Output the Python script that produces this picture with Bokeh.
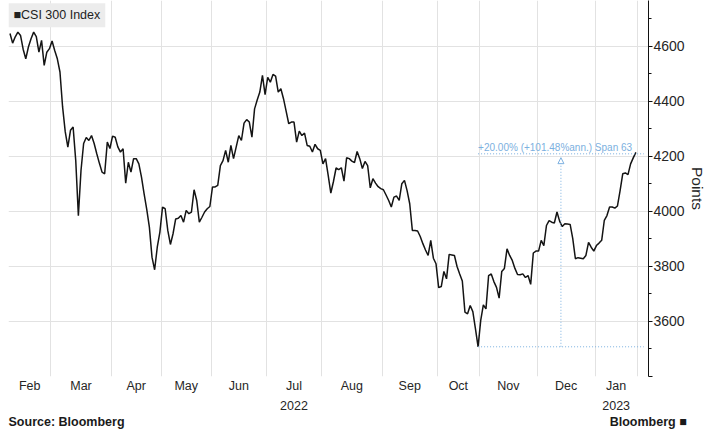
from bokeh.plotting import figure
from bokeh.models import Range1d, FixedTicker, Label, Arrow, NormalHead, LinearAxis
from bokeh.embed import file_html
from bokeh.resources import INLINE

# ---- data (CSI 300 daily closes, trading days Feb 2022 .. Jan 2023) ----
months = ["Feb", "Mar", "Apr", "May", "Jun", "Jul", "Aug", "Sep", "Oct", "Nov", "Dec", "Jan"]
month_tick_labels = ["Feb", "Mar", "Apr", "May", "Jun", "Jul\n2022", "Aug", "Sep", "Oct", "Nov", "Dec", "Jan\n2023"]
feb = [4647, 4612, 4635, 4652, 4640, 4590, 4555, 4598, 4628, 4652, 4636, 4579, 4622, 4531, 4579, 4592]
mar = [4620, 4585, 4555, 4507, 4380, 4290, 4234, 4295, 4307, 4185, 3985, 4149, 4247, 4269, 4258, 4276,
       4247, 4210, 4175, 4143, 4137, 4252, 4229]
apr = [4274, 4270, 4235, 4216, 4228, 4103, 4179, 4143, 4192, 4192, 4173, 4125, 4064, 4008, 3943, 3834,
       3788, 3870, 3925]
may = [4016, 4010, 3931, 3880, 3919, 3973, 3975, 3985, 3961, 4004, 3992, 3998, 4079, 4040, 3961, 3979,
       3998, 4010, 4018]
jun = [4089, 4089, 4095, 4167, 4185, 4222, 4179, 4240, 4192, 4234, 4276, 4258, 4321, 4334, 4325, 4270,
       4373, 4405, 4434, 4495, 4425]
jul = [4488, 4470, 4498, 4492, 4434, 4446, 4410, 4365, 4319, 4325, 4325, 4252, 4292, 4276, 4285, 4240,
       4237, 4216, 4244, 4228, 4222]
aug = [4173, 4192, 4131, 4067, 4109, 4158, 4152, 4159, 4110, 4195, 4192, 4183, 4178, 4218, 4192, 4156,
       4182, 4167, 4086, 4119, 4103, 4090, 4083]
sep = [4079, 4060, 4040, 4016, 4052, 4056, 4040, 4101, 4113, 4076, 4028, 3931, 3931, 3929, 3909, 3883,
       3860, 3840, 3895, 3830, 3810]
oct_ = [3723, 3727, 3782, 3755, 3844, 3842, 3840, 3800, 3773, 3747, 3634, 3628, 3658, 3636, 3573, 3508]
nov = [3604, 3660, 3646, 3767, 3773, 3745, 3724, 3685, 3782, 3793, 3864, 3840, 3822, 3793, 3771, 3770,
       3773, 3760, 3767, 3735, 3849, 3856]
dec = [3856, 3895, 3876, 3949, 3967, 3961, 3958, 3998, 3965, 3945, 3955, 3954, 3953, 3901, 3828, 3832,
       3830, 3828, 3840, 3888, 3870, 3856]
jan = [3876, 3885, 3895, 3968, 3985, 4016, 4016, 4012, 4020, 4076, 4137, 4140, 4134, 4173, 4195, 4215]

series = [feb, mar, apr, may, jun, jul, aug, sep, oct_, nov, dec, jan]
y_ticks = [3400, 3600, 3800, 4000, 4200, 4400, 4600]
y_minor = [3500, 3700, 3900, 4100, 4300, 4500, 4700]
span_days = 63
annotation_text = "+20.00% (+101.48%ann.) Span 63"
legend_text = "\u25a0CSI 300 Index"
source_text = "Source: Bloomberg"
brand_text = "Bloomberg \u25a0"

values = [v for m in series for v in m]
xs = list(range(len(values)))

starts = []
s = 0
for m in series:
    starts.append(s)
    s += len(m)
mids = [st + (len(m) - 1) / 2 for st, m in zip(starts, series)]
bounds = [st - 0.5 for st in starts[1:]] + [s - 0.5]

FONT = "Liberation Sans"
BLUE = "#7cb0e0"
TXT = "#262626"
X_LO, X_HI = -0.57, 242.8
Y_TOP = 4767

p = figure(frame_width=640, frame_height=376, output_backend="svg", toolbar_location=None,
           x_range=Range1d(X_LO, X_HI), y_range=Range1d(3400, Y_TOP),
           y_axis_location="right", min_border_left=8, min_border_top=0,
           min_border_right=64, min_border_bottom=56,
           background_fill_color="white", border_fill_color="white")
p.outline_line_color = None

p.line(xs, values, line_color="#141414", line_width=1.5)

# x axis: month labels centred, gridlines at month boundaries
p.xaxis.ticker = FixedTicker(ticks=mids)
p.xaxis.major_label_overrides = {m: lab for m, lab in zip(mids, month_tick_labels)}
p.xaxis.major_tick_line_color = None
p.xaxis.minor_tick_line_color = None
p.xaxis.axis_line_color = None
p.xaxis.major_label_standoff = -4
p.xaxis.major_label_text_font = FONT
p.xaxis.major_label_text_font_size = "12.5px"
p.xaxis.major_label_text_line_height = 1.45
p.xaxis.major_label_text_color = TXT
p.xgrid.ticker = FixedTicker(ticks=bounds)
p.xgrid.grid_line_color = "#e2e2e2"

# footer row (source at left, brand at right) as a second, line-less bottom axis
src_pos = 21.5
brand_pos = X_HI - 0.1
footer_axis = LinearAxis(ticker=FixedTicker(ticks=[src_pos, brand_pos]),
                         major_label_overrides={src_pos: source_text, brand_pos: brand_text},
                         axis_line_color=None, major_tick_line_color=None, minor_tick_line_color=None,
                         major_label_standoff=-7, major_label_text_font=FONT,
                         major_label_text_font_style="bold", major_label_text_font_size="12.5px",
                         major_label_text_color="#1a1a1a")
p.add_layout(footer_axis, "below")

# y axis on the right
p.yaxis.ticker = FixedTicker(ticks=y_ticks, minor_ticks=y_minor)
p.yaxis.major_label_overrides = {3400: ""}
p.yaxis.axis_line_color = "#111111"
p.yaxis.major_tick_line_color = "#111111"
p.yaxis.minor_tick_line_color = "#111111"
p.yaxis.major_tick_in = 0
p.yaxis.major_tick_out = 4
p.yaxis.minor_tick_in = 0
p.yaxis.minor_tick_out = 3
p.yaxis.major_label_standoff = 1
p.yaxis.major_label_text_font = FONT
p.yaxis.major_label_text_font_size = "14px"
p.yaxis.major_label_text_color = TXT
p.yaxis.axis_label = "Points"
p.yaxis.axis_label_standoff = 1
p.yaxis.axis_label_text_font = FONT
p.yaxis.axis_label_text_font_size = "15.5px"
p.yaxis.axis_label_text_font_style = "normal"
p.yaxis.axis_label_text_color = TXT
p.ygrid.ticker = FixedTicker(ticks=y_ticks)
p.ygrid.grid_line_color = "#e2e2e2"

# span annotation from the October low
low_i = min(range(len(values)), key=lambda i: values[i])
low = values[low_i]
high = low * 1.2
end_i = low_i + span_days
mid_i = (low_i + end_i) / 2
p.segment(x0=[low_i, low_i], y0=[low, high], x1=[end_i, end_i], y1=[low, high],
          line_color=BLUE, line_width=1, line_dash="1 2")
p.add_layout(Arrow(x_start=mid_i, y_start=low, x_end=mid_i, y_end=high - 14,
                   line_color=BLUE, line_width=1, line_dash="1 2",
                   end=NormalHead(size=6, fill_color="white", line_color=BLUE, line_width=1)))
p.add_layout(Label(x=low_i, y=high, text=annotation_text, y_offset=1,
                   text_font=FONT, text_font_size="10px", text_color=BLUE,
                   text_align="left", text_baseline="bottom"))

# series tag at top left
p.add_layout(Label(x=0, y=Y_TOP - 10, x_units="screen", text=legend_text,
                   text_font=FONT, text_font_size="12.5px", text_color="#222222",
                   text_align="left", text_baseline="top", padding=5,
                   background_fill_color="#ececec"))

open("out.html", "w").write(file_html(p, INLINE))
